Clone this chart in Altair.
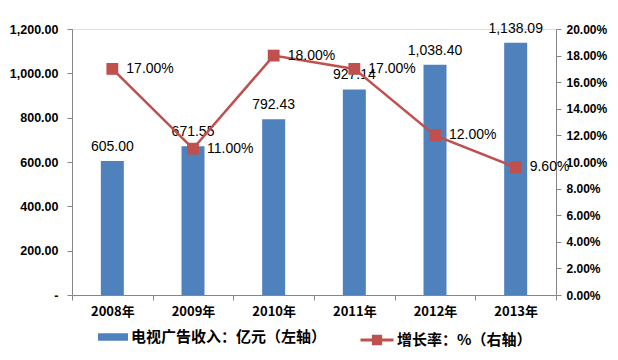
import altair as alt
import pandas as pd

years = ["2008年", "2009年", "2010年", "2011年", "2012年", "2013年"]
revenue = [605.00, 671.55, 792.43, 927.14, 1038.40, 1138.09]
growth = [0.17, 0.11, 0.18, 0.17, 0.12, 0.096]
bar_name = "电视广告收入：亿元（左轴）"
line_name = "增长率：%（右轴）"
left_ticks = [0, 200, 400, 600, 800, 1000, 1200]
right_ticks = [0, 0.02, 0.04, 0.06, 0.08, 0.10, 0.12, 0.14, 0.16, 0.18, 0.20]

df = pd.DataFrame({
    "year": years,
    "revenue": revenue,
    "growth": growth,
    "bar_s": [bar_name] * len(years),
    "line_s": [line_name] * len(years),
})

BLUE = "#4F81BD"
RED = "#C0504D"
GRAY = "#868686"
NUM_FONT = "Liberation Sans"
CJK_FONT = "Noto Sans CJK SC"

x = alt.X(
    "year:N", sort=years,
    scale=alt.Scale(paddingInner=0, paddingOuter=0),
    axis=alt.Axis(
        title=None, tickBand="extent", labelAngle=0,
        labelFont=CJK_FONT, labelFontSize=13, labelFontWeight="bold",
        labelColor="#000000", labelPadding=5,
        domainColor=GRAY, tickColor=GRAY, tickSize=5,
    ),
)

y_left = alt.Y(
    "revenue:Q",
    scale=alt.Scale(domain=[0, 1200], nice=False),
    axis=alt.Axis(
        title=None, orient="left", values=left_ticks, grid=False,
        labelExpr="datum.value == 0 ? '-' : format(datum.value, ',.2f')",
        labelFont=NUM_FONT, labelFontSize=12.5, labelFontWeight="bold",
        labelColor="#000000", labelPadding=9, labelLimit=200,
        domainColor=GRAY, tickColor=GRAY, tickSize=5,
    ),
)

y_right = alt.Y(
    "growth:Q",
    scale=alt.Scale(domain=[0, 0.2], nice=False),
    axis=alt.Axis(
        title=None, orient="right", values=right_ticks, grid=False,
        format=".2%",
        labelFont=NUM_FONT, labelFontSize=12, labelFontWeight="bold",
        labelColor="#000000", labelPadding=5, labelLimit=200,
        domainColor=GRAY, tickColor=GRAY, tickSize=5,
    ),
)

base = alt.Chart(df)

bars = base.mark_bar(width=alt.RelativeBandSize(0.285)).encode(
    x=x,
    y=y_left,
    color=alt.Color(
        "bar_s:N",
        scale=alt.Scale(domain=[bar_name], range=[BLUE]),
        legend=alt.Legend(
            title=None, orient="none", legendX=26, legendY=293,
            symbolType="M-1,-0.25H1V0.25H-1Z", symbolSize=900,
            symbolStrokeWidth=0, labelOffset=3, labelLimit=400,
            labelFont=CJK_FONT, labelFontSize=15, labelFontWeight="bold",
            labelColor="#000000",
        ),
    ),
)

bar_text = base.mark_text(
    baseline="bottom", dy=-7, font=NUM_FONT, fontSize=14, color="#000000"
).encode(
    x=x,
    y=y_left,
    text=alt.Text("revenue:Q", format=",.2f"),
)

line = base.mark_line(strokeWidth=2.5).encode(
    x=x,
    y=y_right,
    color=alt.Color(
        "line_s:N",
        scale=alt.Scale(domain=[line_name], range=[RED]),
        legend=alt.Legend(
            title=None, orient="none", legendX=287, legendY=293,
            symbolType="M-1,0H1M-0.22,-0.22H0.22V0.22H-0.22Z", symbolSize=1089,
            symbolStrokeWidth=3, symbolFillColor=RED, symbolStrokeColor=RED,
            labelOffset=2, labelLimit=400,
            labelFont=CJK_FONT, labelFontSize=15, labelFontWeight="bold",
            labelColor="#000000",
        ),
    ),
)

points = base.mark_point(
    shape="square", filled=True, size=140, color=RED, opacity=1
).encode(
    x=x,
    y=y_right,
)

line_text = base.mark_text(
    align="left", baseline="middle", dx=14, font=NUM_FONT, fontSize=14, color="#000000"
).encode(
    x=x,
    y=y_right,
    text=alt.Text("growth:Q", format=".2%"),
)

left_layer = alt.layer(bars, bar_text)
right_layer = alt.layer(line, points, line_text)

chart = alt.layer(left_layer, right_layer).resolve_scale(
    y="independent", color="independent"
).properties(
    width=484,
    height=266,
    autosize=alt.AutoSizeParams(type="none"),
    padding={"left": 64, "top": 21, "right": 54, "bottom": 57},
).configure_view(
    stroke=None
).configure(
    background="#ffffff"
)

chart.save("out.html", embed_options={"renderer": "svg", "actions": False})
